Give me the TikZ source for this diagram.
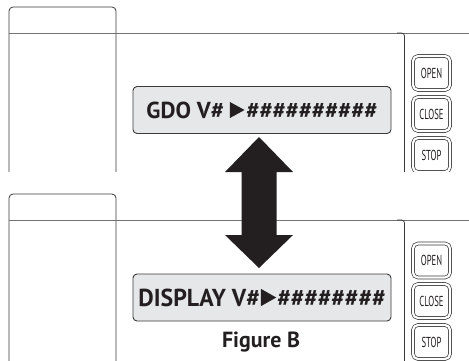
\documentclass[tikz,border=0pt]{standalone}
\usepackage{fontspec}
\setmainfont{PT Sans}
\definecolor{ink}{HTML}{231F20}
\definecolor{lcd}{HTML}{E6E7E8}
\definecolor{edge}{HTML}{3A3A3A}
\tikzset{
  frame/.style={draw=edge, line width=0.8bp},
  lcdbox/.style={draw=edge, line width=0.9bp, fill=lcd, rounded corners=4bp,
     minimum width=258bp, minimum height=47bp, inner sep=0pt, text=ink},
  btn/.style={draw=edge, line width=0.7bp, double=white, double distance=2.2bp,
     rounded corners=5bp, minimum width=37bp, minimum height=34bp, inner sep=0pt, text=ink},
  bigarrow/.style={fill=ink, draw=none},
}
\newcommand\btnlabel[1]{\scalebox{0.6}[1]{\fontsize{14.5}{14.5}\selectfont #1}}
\newcommand\playtri{\tikz[baseline=0pt, sharp corners, x=1pt, y=1pt]\fill[ink, sharp corners] (0pt,0em) -- (0pt,0.7em) -- (0.64em,0.35em) -- cycle;}
\begin{document}
\begin{tikzpicture}[x=1bp,y=-1bp]
\useasboundingbox (0,0) rectangle (469,360);
% ---------- top panel ----------
\begin{scope}
\clip (0,0) rectangle (469,171.5);
\draw[frame, rounded corners=4bp] (9,172) -- (9,7) -- (116,7) -- (116,172);
\draw[frame, draw=gray!90!black] (9,33) -- (469,33);
\draw[frame, rounded corners=3bp] (397,33) -- (404.5,33) -- (404.5,172);
\node[lcdbox] (dispA) at (262,110) {\resizebox{231bp}{16.5bp}{\bfseries GDO V\# \playtri\kern0.08em\#\#\#\#\#\#\#\#\#\#}};
\node[btn] (openA) at (431.5,73) {\btnlabel{OPEN}};
\node[btn] (closeA) at (431.5,114) {\btnlabel{CLOSE}};
\node[btn] (stopA) at (431.5,155) {\btnlabel{STOP}};
\end{scope}
% ---------- bottom panel ----------
\begin{scope}
\clip (0,180) rectangle (469,360);
\draw[frame, rounded corners=4bp] (9,361) -- (9,194) -- (116,194) -- (116,361);
\draw[frame, draw=gray!90!black] (9,220) -- (469,220);
\draw[frame, rounded corners=3bp] (397,220) -- (404.5,220) -- (404.5,361);
\node[lcdbox] (dispB) at (262,297.5) {\resizebox{247bp}{17.5bp}{\bfseries DISPLAY V\#\kern0.05em\playtri\kern0.05em\#\#\#\#\#\#\#\#}};
\node[btn] (openB) at (431.5,260.5) {\btnlabel{OPEN}};
\node[btn] (closeB) at (431.5,301) {\btnlabel{CLOSE}};
\node[btn] (stopB) at (431.5,342) {\btnlabel{STOP}};
\end{scope}
% ---------- double arrow ----------
\coordinate (tipA) at (259,137);
\coordinate (tipB) at (259,268);
\fill[bigarrow] (tipA) -- (225,172) -- (241.5,172) -- (241.5,235) -- (225,235)
   -- (tipB) -- (293,235) -- (276.5,235) -- (276.5,172) -- (293,172) -- cycle;
% ---------- caption ----------
\node[text=ink, font=\bfseries\fontsize{22}{22}\selectfont, anchor=base] (cap) at (261,347) {Figure B};
\end{tikzpicture}
\end{document}
